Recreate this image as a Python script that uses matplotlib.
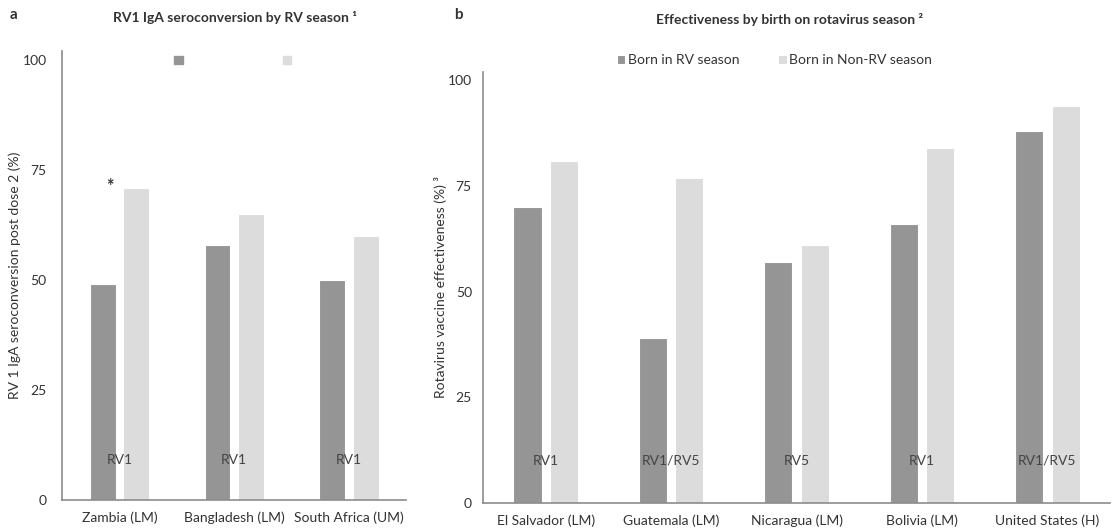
import matplotlib
matplotlib.use("Agg")
import matplotlib.pyplot as plt
import numpy as np
from matplotlib.patches import Patch

plt.rcParams['font.family'] = ['Lato', 'DejaVu Sans']

# Panel a data
a_categories = ["Zambia (LM)", "Bangladesh (LM)", "South Africa (UM)"]
a_rv_season = [49, 58, 50]
a_non_rv_season = [71, 65, 60]
a_vaccine = ["RV1", "RV1", "RV1"]

# Panel b data
b_categories = ["El Salvador (LM)", "Guatemala (LM)", "Nicaragua (LM)", "Bolivia (LM)", "United States (H)"]
b_rv_season = [70, 39, 57, 66, 88]
b_non_rv_season = [81, 77, 61, 84, 94]
b_vaccine = ["RV1", "RV1/RV5", "RV5", "RV1", "RV1/RV5"]

series_labels = ["Born in RV season", "Born in Non-RV season"]
yticks = [0, 25, 50, 75, 100]

dark = "#959595"
light = "#dcdcdc"
spine_c = "#8c8c8c"
txt_c = "#333333"

fig = plt.figure(figsize=(11.18, 5.31), dpi=100)

def style(ax, cats, ymax, ypad):
    for s in ["top", "right"]:
        ax.spines[s].set_visible(False)
    for s in ["left", "bottom"]:
        ax.spines[s].set_color(spine_c)
        ax.spines[s].set_linewidth(1.2)
    ax.set_ylim(0, ymax)
    ax.set_xlim(-0.5, len(cats) - 0.5)
    ax.set_yticks(yticks)
    ax.set_xticks(np.arange(len(cats)))
    ax.set_xticklabels(cats, fontsize=10, color=txt_c)
    ax.tick_params(axis='both', length=0, labelsize=10, colors=txt_c)
    ax.tick_params(axis='y', pad=ypad)
    ax.tick_params(axis='x', pad=8)

w = 0.225
off = 0.145

# Panel a
axa = fig.add_axes([0.0555, 0.0584, 0.308, 0.845])
x = np.arange(len(a_categories))
axa.bar(x - off, a_rv_season, w, color=dark, edgecolor="white", linewidth=0.8)
axa.bar(x + off, a_non_rv_season, w, color=light, edgecolor="white", linewidth=0.8)
style(axa, a_categories, 102, 11)
for i, v in enumerate(a_vaccine):
    axa.text(x[i], 9, v, ha="center", va="center", fontsize=10, color="#444444")
axa.text(x[0] - 0.08, 71.2, "*", ha="center", va="center", fontsize=13, fontweight="bold", color="#333333")
axa.set_ylabel("RV 1 IgA seroconversion post dose 2 (%)", fontsize=10, color=txt_c)
axa.yaxis.set_label_coords(-0.12, 0.5)
axa.legend([Patch(color=dark), Patch(color=light)], ["", ""], ncol=2, frameon=False,
           loc="upper center", bbox_to_anchor=(0.5, 1.02), columnspacing=7.0,
           handlelength=0.6, handleheight=0.6, handletextpad=0.2)

# Panel b
axb = fig.add_axes([0.432, 0.0527, 0.561, 0.812])
x = np.arange(len(b_categories))
axb.bar(x - off, b_rv_season, w, color=dark, edgecolor="white", linewidth=0.8, label=series_labels[0])
axb.bar(x + off, b_non_rv_season, w, color=light, edgecolor="white", linewidth=0.8, label=series_labels[1])
style(axb, b_categories, 102, 8)
for i, v in enumerate(b_vaccine):
    axb.text(x[i], 10, v, ha="center", va="center", fontsize=10, color="#444444")
axb.set_ylabel("Rotavirus vaccine effectiveness (%) ³", fontsize=10, color=txt_c)
axb.yaxis.set_label_coords(-0.058, 0.5)
axb.legend(ncol=2, frameon=False, loc="upper center", bbox_to_anchor=(0.465, 1.07),
           fontsize=10, columnspacing=2.8, handlelength=0.6, handleheight=0.6, handletextpad=0.2,
           labelcolor=txt_c)

# Titles and panel letters
fig.text(235 / 1118, 1 - 17 / 531, "RV1 IgA seroconversion by RV season ¹", ha="center", va="center",
         fontsize=10, fontweight="bold", color=txt_c)
fig.text(790 / 1118, 1 - 19 / 531, "Effectiveness by birth on rotavirus season ²", ha="center", va="center",
         fontsize=10, fontweight="bold", color=txt_c)
fig.text(14 / 1118, 1 - 15 / 531, "a", ha="center", va="center", fontsize=11, fontweight="bold", color=txt_c)
fig.text(458 / 1118, 1 - 15 / 531, "b", ha="center", va="center", fontsize=11, fontweight="bold", color=txt_c)

fig.savefig("out.png", dpi=100)
